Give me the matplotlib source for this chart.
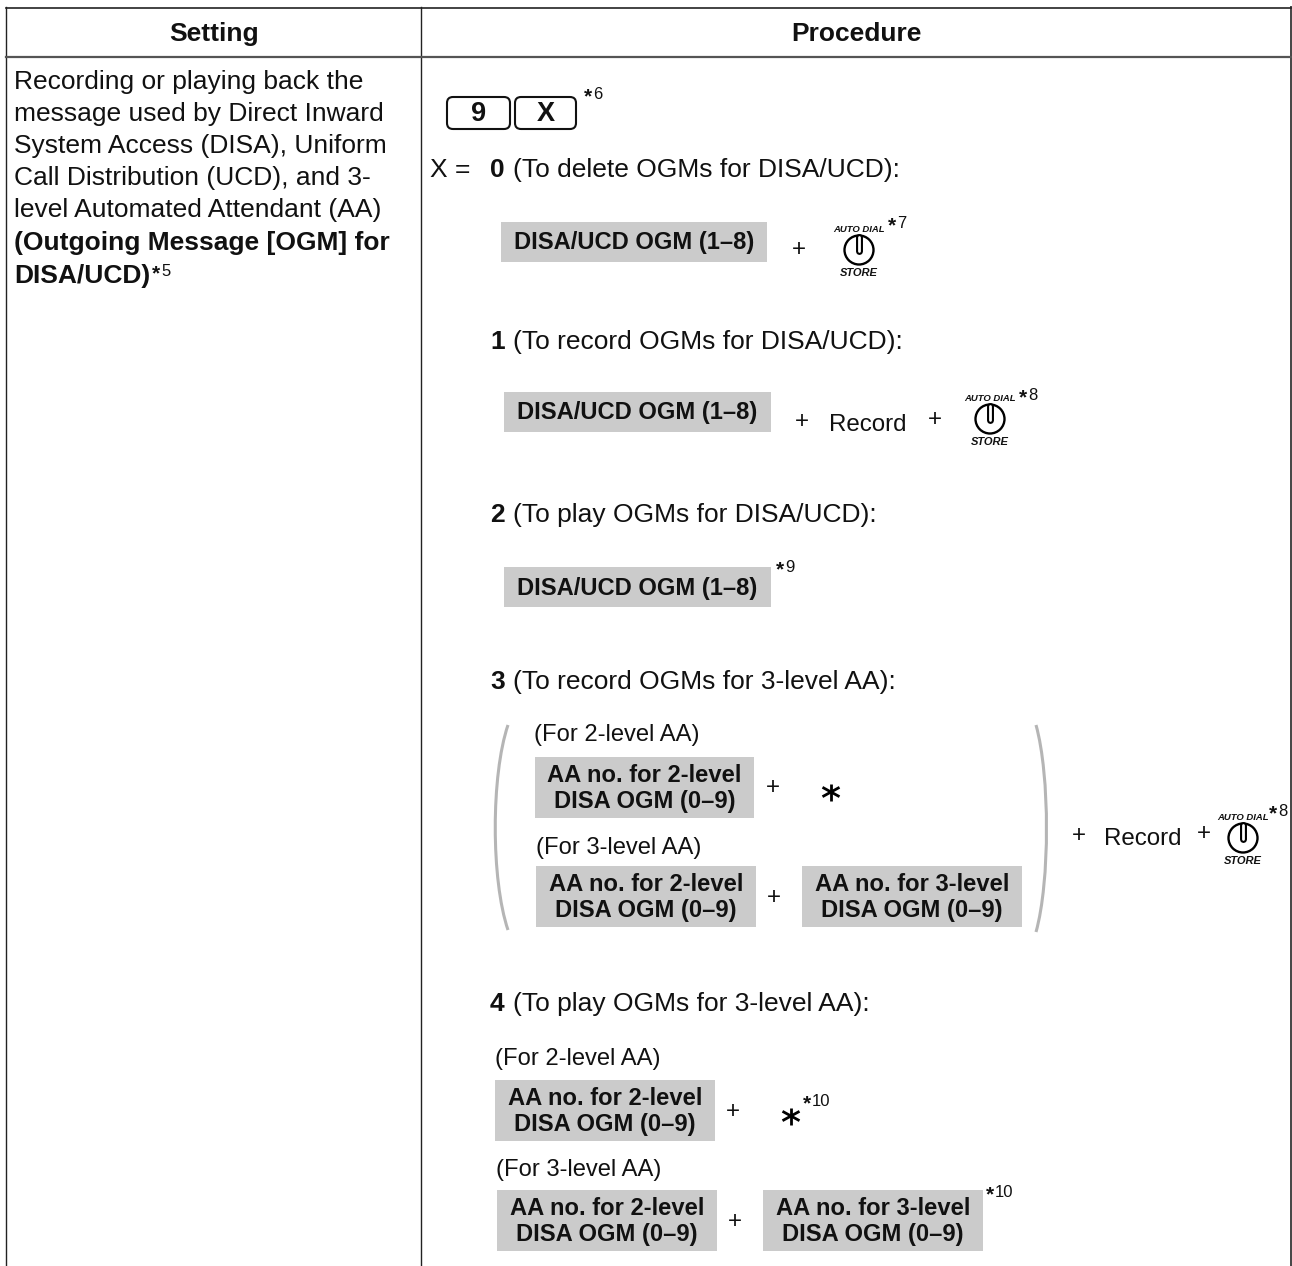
import matplotlib
matplotlib.use("Agg")
import matplotlib.pyplot as plt
from matplotlib.patches import Circle, FancyBboxPatch, PathPatch, Rectangle
from matplotlib.path import Path

plt.rcParams["font.family"] = ["Liberation Sans", "DejaVu Sans"]

HEADERS = ["Setting", "Procedure"]
SETTING_LINES = [
    "Recording or playing back the",
    "message used by Direct Inward",
    "System Access (DISA), Uniform",
    "Call Distribution (UCD), and 3-",
    "level Automated Attendant (AA)",
]
SETTING_BOLD = ["(Outgoing Message [OGM] for", "DISA/UCD)"]
STEP_NUMBERS = ["0", "1", "2", "3", "4"]
STEP_TEXTS = [
    "(To delete OGMs for DISA/UCD):",
    "(To record OGMs for DISA/UCD):",
    "(To play OGMs for DISA/UCD):",
    "(To record OGMs for 3-level AA):",
    "(To play OGMs for 3-level AA):",
]
OGM_LABEL = "DISA/UCD OGM (1–8)"
AA2_LABEL = "AA no. for 2-level\nDISA OGM (0–9)"
AA3_LABEL = "AA no. for 3-level\nDISA OGM (0–9)"
FOR_2 = "(For 2-level AA)"
FOR_3 = "(For 3-level AA)"

BODY = 19
SMALL = 17.1
GREY = "#cbcbcb"
INK = "#111111"

fig = plt.figure(figsize=(12.92, 12.66), dpi=100)
ax = fig.add_axes([0, 0, 1, 1])
ax.set_xlim(0, 1292)
ax.set_ylim(1266, 0)
ax.axis("off")


def txt(x, y, s, size=BODY, bold=False, ha="left", va="baseline", **kw):
    ax.text(x, y, s, fontsize=size, fontweight="bold" if bold else "normal",
            ha=ha, va=va, color=INK, **kw)


def grey_box(x0, x1, y0, y1, label):
    ax.add_patch(Rectangle((x0, y0), x1 - x0, y1 - y0, fc=GREY, ec="none", zorder=1))
    txt((x0 + x1) / 2, (y0 + y1) / 2 + 1, label, size=SMALL, bold=True, ha="center", va="center",
        linespacing=1.21, zorder=2)


def plus(x, y):
    txt(x, y, "+", size=17.4, ha="center", va="center")


def key(x0, x1, y0, y1, label):
    ax.add_patch(FancyBboxPatch((x0 + 5, y0 + 5), x1 - x0 - 10, y1 - y0 - 10,
                                boxstyle="round,pad=5,rounding_size=6",
                                fc="white", ec=INK, lw=1.5))
    txt((x0 + x1) / 2, (y0 + y1) / 2 + 1, label, size=19.5, bold=True, ha="center", va="center")


def star(x, y):
    r = 8.5
    ax.plot([x, x], [y - r, y + r], color="black", lw=2, solid_capstyle="butt")
    ax.plot([x - r, x + r], [y - r * 0.55, y + r * 0.55], color="black", lw=2, solid_capstyle="butt")
    ax.plot([x - r, x + r], [y + r * 0.55, y - r * 0.55], color="black", lw=2, solid_capstyle="butt")


def store_icon(cx, cy):
    txt(cx, cy - 18, "AUTO DIAL", size=6.8, bold=True, style="italic", ha="center")
    txt(cx, cy + 26, "STORE", size=8, bold=True, style="italic", ha="center")
    ax.add_patch(Circle((cx, cy), 14.5, fc="white", ec="black", lw=1.7))
    ax.plot([cx, cx], [cy - 13, cy + 1], color="black", lw=5, solid_capstyle="round")
    ax.plot([cx, cx], [cy - 13, cy + 1], color="white", lw=2, solid_capstyle="round")


def note(x, y, num):
    txt(x, y + 2, "*", size=15, bold=True)
    txt(x + 9, y - 1, num, size=12)


def paren(x_end, x_mid, y0, y1):
    verts = [(x_end, y0), (x_mid, y0 + 50), (x_mid, y1 - 50), (x_end, y1)]
    codes = [Path.MOVETO, Path.CURVE4, Path.CURVE4, Path.CURVE4]
    ax.add_patch(PathPatch(Path(verts, codes), fc="none", ec="#b5b5b5", lw=2.2))


# table frame
ax.plot([6, 6], [7, 1266], color="#222222", lw=1)
ax.plot([421, 421], [7, 1266], color="#222222", lw=1)
ax.plot([1290.5, 1290.5], [7, 1266], color="#444444", lw=1.4)
ax.plot([6, 1291], [7.5, 7.5], color="#222222", lw=1.2)
ax.plot([6, 1291], [57, 57], color="#555555", lw=1.6)

txt(214, 41, HEADERS[0], bold=True, ha="center")
txt(856, 41, HEADERS[1], bold=True, ha="center")

for i, line in enumerate(SETTING_LINES):
    txt(14, 89 + 32 * i, line)
txt(14, 250, SETTING_BOLD[0], bold=True)
txt(14, 283, SETTING_BOLD[1], bold=True)
note(152, 277, "5")

key(447, 510, 97, 129, "9")
key(515, 576, 97, 129, "X")
note(584, 100, "6")

txt(430, 177, "X =")
step_y = [177, 349, 522, 689, 1011]
for num, text, y in zip(STEP_NUMBERS, STEP_TEXTS, step_y):
    txt(490, y, num, bold=True)
    txt(513, y, text)

# step 0
grey_box(501, 767, 222, 262, OGM_LABEL)
plus(799, 250)
store_icon(859, 250)
note(888, 229, "7")

# step 1
grey_box(504, 771, 392, 432, OGM_LABEL)
plus(802, 422)
txt(829, 431, "Record", size=17.4)
plus(935, 420)
store_icon(990, 419)
note(1019, 401, "8")

# step 2
grey_box(504, 771, 567, 607, OGM_LABEL)
note(776, 573, "9")

# step 3
paren(508, 491, 725, 930)
paren(1036, 1050, 725, 932)
txt(534, 741, FOR_2, size=SMALL)
grey_box(535, 754, 757, 818, AA2_LABEL)
plus(773, 788)
star(831, 792)
txt(536, 854, FOR_3, size=SMALL)
grey_box(536, 756, 866, 927, AA2_LABEL)
plus(774, 898)
grey_box(802, 1022, 866, 927, AA3_LABEL)
plus(1079, 836)
txt(1104, 845, "Record", size=17.4)
plus(1204, 834)
store_icon(1243, 838)
note(1269, 817, "8")

# step 4
txt(495, 1065, FOR_2, size=SMALL)
grey_box(495, 715, 1080, 1141, AA2_LABEL)
plus(733, 1112)
star(791, 1116)
note(803, 1107, "10")
txt(496, 1176, FOR_3, size=SMALL)
grey_box(497, 717, 1190, 1251, AA2_LABEL)
plus(735, 1222)
grey_box(763, 983, 1190, 1251, AA3_LABEL)
note(986, 1198, "10")

fig.savefig("out.png", dpi=100)
